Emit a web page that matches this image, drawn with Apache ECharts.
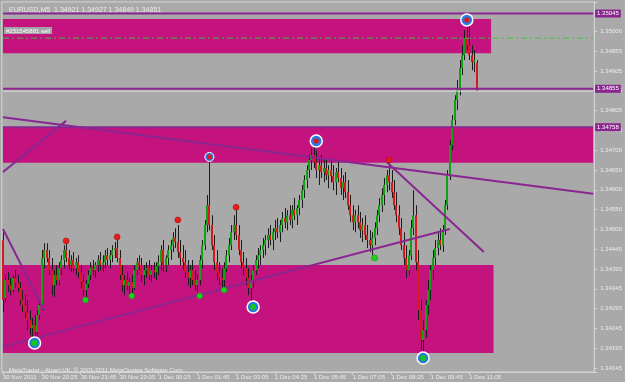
<!DOCTYPE html>
<html><head><meta charset="utf-8">
<script src="https://cdn.jsdelivr.net/npm/echarts@6/dist/echarts.min.js"></script>
<style>html,body{margin:0;padding:0;background:#a9a9a9;}#c{width:625px;height:382px;}</style>
</head><body><div id="c"></div>
<script>
const symbolTitle = 'EURUSD,M5';
const xTickLabels = ['30 Nov 2011','30 Nov 20:25','30 Nov 21:45','30 Nov 23:05','1 Dec 00:25','1 Dec 01:45','1 Dec 03:05','1 Dec 04:25','1 Dec 05:45','1 Dec 07:05','1 Dec 08:25','1 Dec 09:45','1 Dec 11:05'];
const yTickLabels = ['1.34145','1.34195','1.34245','1.34295','1.34345','1.34395','1.34445','1.34500','1.34550','1.34600','1.34650','1.34700','1.34750','1.34805','1.34855','1.34905','1.34955','1.35000',''];
const openP = [1.34473,1.34327,1.34372,1.34359,1.34347,1.34377,1.34364,1.34352,1.34322,1.34309,1.34291,1.34271,1.34251,1.34258,1.34241,1.34284,
1.34309,1.34428,1.34448,1.34428,1.34397,1.34359,1.34385,1.34372,1.34402,1.34423,1.34448,1.34428,1.34410,1.34423,1.34402,1.34417,
1.34392,1.34367,1.34347,1.34362,1.34385,1.34402,1.34397,1.34410,1.34423,1.34410,1.34417,1.34435,1.34423,1.34435,1.34448,1.34453,
1.34428,1.34385,1.34359,1.34372,1.34357,1.34367,1.34352,1.34397,1.34417,1.34410,1.34385,1.34397,1.34402,1.34385,1.34397,1.34392,
1.34407,1.34417,1.34448,1.34410,1.34428,1.34448,1.34460,1.34478,1.34468,1.34443,1.34428,1.34417,1.34392,1.34377,1.34397,1.34372,
1.34359,1.34372,1.34423,1.34460,1.34511,1.34561,1.34511,1.34460,1.34417,1.34392,1.34377,1.34372,1.34402,1.34435,1.34460,1.34493,
1.34511,1.34486,1.34448,1.34417,1.34402,1.34377,1.34352,1.34367,1.34397,1.34423,1.34435,1.34448,1.34460,1.34473,1.34486,1.34473,
1.34493,1.34503,1.34493,1.34511,1.34529,1.34518,1.34536,1.34524,1.34549,1.34536,1.34554,1.34574,1.34599,1.34625,1.34650,1.34675,
1.34688,1.34670,1.34650,1.34662,1.34645,1.34655,1.34637,1.34650,1.34635,1.34619,1.34645,1.34630,1.34604,1.34619,1.34594,1.34561,
1.34536,1.34518,1.34536,1.34518,1.34498,1.34511,1.34486,1.34473,1.34460,1.34478,1.34503,1.34536,1.34561,1.34587,1.34612,1.34637,
1.34619,1.34594,1.34561,1.34536,1.34503,1.34460,1.34428,1.34397,1.34435,1.34503,1.34536,1.34417,1.34296,1.34221,1.34246,1.34309,
1.34347,1.34397,1.34428,1.34453,1.34473,1.34460,1.34498,1.34561,1.34637,1.34713,1.34776,1.34827,1.34852,1.34907,1.34940,1.34983,
1.34965,1.34940,1.34922,1.34921];
const highP = [1.34493,1.34385,1.34392,1.34377,1.34385,1.34397,1.34385,1.34367,1.34347,1.34334,1.34322,1.34296,1.34276,1.34284,1.34296,1.34322,
1.34448,1.34465,1.34465,1.34448,1.34428,1.34397,1.34410,1.34417,1.34435,1.34460,1.34468,1.34448,1.34435,1.34443,1.34428,1.34435,
1.34410,1.34385,1.34372,1.34397,1.34417,1.34423,1.34417,1.34435,1.34443,1.34435,1.34448,1.34453,1.34448,1.34460,1.34468,1.34473,
1.34448,1.34410,1.34385,1.34392,1.34377,1.34385,1.34410,1.34428,1.34435,1.34428,1.34410,1.34417,1.34423,1.34410,1.34417,1.34417,
1.34435,1.34460,1.34473,1.34435,1.34460,1.34473,1.34493,1.34503,1.34511,1.34473,1.34460,1.34448,1.34423,1.34410,1.34423,1.34397,
1.34385,1.34435,1.34473,1.34524,1.34587,1.34675,1.34536,1.34486,1.34448,1.34417,1.34402,1.34417,1.34448,1.34478,1.34511,1.34536,
1.34549,1.34511,1.34473,1.34443,1.34428,1.34402,1.34385,1.34410,1.34435,1.34453,1.34460,1.34478,1.34486,1.34503,1.34511,1.34503,
1.34524,1.34529,1.34524,1.34544,1.34554,1.34549,1.34561,1.34561,1.34579,1.34561,1.34587,1.34612,1.34637,1.34662,1.34688,1.34705,
1.34720,1.34700,1.34680,1.34688,1.34675,1.34680,1.34662,1.34675,1.34662,1.34655,1.34670,1.34655,1.34637,1.34645,1.34625,1.34587,
1.34561,1.34549,1.34561,1.34544,1.34529,1.34536,1.34511,1.34498,1.34493,1.34518,1.34549,1.34579,1.34604,1.34630,1.34650,1.34667,
1.34650,1.34625,1.34594,1.34561,1.34529,1.34493,1.34460,1.34448,1.34524,1.34599,1.34561,1.34448,1.34322,1.34271,1.34322,1.34372,
1.34410,1.34448,1.34473,1.34493,1.34503,1.34511,1.34574,1.34650,1.34726,1.34789,1.34839,1.34877,1.34928,1.34965,1.35003,1.35016,
1.35023,1.34965,1.34953,1.34927];
const lowP = [1.34291,1.34316,1.34342,1.34334,1.34339,1.34352,1.34342,1.34309,1.34291,1.34276,1.34246,1.34233,1.34221,1.34208,1.34231,1.34271,
1.34296,1.34402,1.34417,1.34385,1.34334,1.34329,1.34359,1.34359,1.34385,1.34402,1.34417,1.34397,1.34392,1.34392,1.34385,1.34377,
1.34352,1.34334,1.34327,1.34352,1.34372,1.34382,1.34377,1.34392,1.34397,1.34392,1.34402,1.34410,1.34402,1.34417,1.34428,1.34417,
1.34372,1.34342,1.34334,1.34347,1.34337,1.34339,1.34347,1.34385,1.34397,1.34367,1.34359,1.34377,1.34372,1.34367,1.34377,1.34372,
1.34385,1.34397,1.34392,1.34392,1.34410,1.34423,1.34443,1.34453,1.34428,1.34410,1.34397,1.34377,1.34359,1.34352,1.34359,1.34347,
1.34342,1.34359,1.34402,1.34448,1.34493,1.34498,1.34448,1.34397,1.34372,1.34359,1.34352,1.34352,1.34392,1.34417,1.34448,1.34473,
1.34473,1.34435,1.34402,1.34385,1.34359,1.34334,1.34309,1.34352,1.34385,1.34402,1.34410,1.34428,1.34435,1.34453,1.34460,1.34448,
1.34473,1.34478,1.34468,1.34493,1.34503,1.34498,1.34511,1.34503,1.34524,1.34511,1.34536,1.34554,1.34579,1.34604,1.34630,1.34650,
1.34655,1.34630,1.34612,1.34630,1.34619,1.34625,1.34604,1.34619,1.34599,1.34587,1.34619,1.34587,1.34574,1.34579,1.34549,1.34518,
1.34498,1.34493,1.34503,1.34478,1.34468,1.34473,1.34453,1.34443,1.34435,1.34460,1.34486,1.34518,1.34544,1.34561,1.34594,1.34599,
1.34579,1.34549,1.34518,1.34486,1.34448,1.34410,1.34377,1.34385,1.34423,1.34486,1.34397,1.34271,1.34196,1.34188,1.34226,1.34284,
1.34322,1.34372,1.34410,1.34435,1.34448,1.34443,1.34486,1.34549,1.34625,1.34700,1.34763,1.34801,1.34839,1.34890,1.34928,1.34953,
1.34928,1.34902,1.34897,1.34849];
const closeP = [1.34322,1.34372,1.34359,1.34347,1.34377,1.34364,1.34352,1.34322,1.34309,1.34291,1.34271,1.34251,1.34258,1.34241,1.34284,1.34309,
1.34428,1.34448,1.34428,1.34397,1.34359,1.34385,1.34372,1.34402,1.34423,1.34448,1.34428,1.34410,1.34423,1.34402,1.34417,1.34392,
1.34367,1.34347,1.34362,1.34385,1.34402,1.34397,1.34410,1.34423,1.34410,1.34417,1.34435,1.34423,1.34435,1.34448,1.34453,1.34428,
1.34385,1.34359,1.34372,1.34357,1.34367,1.34352,1.34397,1.34417,1.34410,1.34385,1.34397,1.34402,1.34385,1.34397,1.34392,1.34407,
1.34417,1.34448,1.34410,1.34428,1.34448,1.34460,1.34478,1.34468,1.34443,1.34428,1.34417,1.34392,1.34377,1.34397,1.34372,1.34359,
1.34372,1.34423,1.34460,1.34511,1.34561,1.34511,1.34460,1.34417,1.34392,1.34377,1.34372,1.34402,1.34435,1.34460,1.34493,1.34511,
1.34486,1.34448,1.34417,1.34402,1.34377,1.34352,1.34367,1.34397,1.34423,1.34435,1.34448,1.34460,1.34473,1.34486,1.34473,1.34493,
1.34503,1.34493,1.34511,1.34529,1.34518,1.34536,1.34524,1.34549,1.34536,1.34554,1.34574,1.34599,1.34625,1.34650,1.34675,1.34688,
1.34670,1.34650,1.34662,1.34645,1.34655,1.34637,1.34650,1.34635,1.34619,1.34645,1.34630,1.34604,1.34619,1.34594,1.34561,1.34536,
1.34518,1.34536,1.34518,1.34498,1.34511,1.34486,1.34473,1.34460,1.34478,1.34503,1.34536,1.34561,1.34587,1.34612,1.34637,1.34619,
1.34594,1.34561,1.34536,1.34503,1.34460,1.34428,1.34397,1.34435,1.34503,1.34536,1.34417,1.34296,1.34221,1.34246,1.34309,1.34347,
1.34397,1.34428,1.34453,1.34473,1.34460,1.34498,1.34561,1.34637,1.34713,1.34776,1.34827,1.34852,1.34907,1.34940,1.34983,1.34965,
1.34940,1.34922,1.34928,1.34851];
// zones: [startBar, endBar, top price, bottom price]
const zoneTop = [0, 201, 1.35031, 1.34945];
const zoneMid = [0, 243, 1.34758, 1.34668];
const zoneLow = [0, 202, 1.34410, 1.34188];
// horizontal levels
const hLevels = [1.35045, 1.34855, 1.34758];
const bidLevel = 1.34849;
const orderLevel = 1.34983;
const orderText = '#251545881 sell';
// trend lines [bar, price]
const trendA = [[0, 1.34783], [243, 1.34590]];
const trendB = [[0, 1.34645], [26, 1.34774]];
const trendC = [[0, 1.34204], [184, 1.34501]];
const trendD = [[0, 1.34501], [17, 1.34295]];
const trendE = [[158, 1.34670], [198, 1.34443]];
// ring markers [bar, price]
const ringHigh = [[191, 1.35029], [129, 1.34723]];
const ringHighSmall = [[85, 1.34683]];
const ringLow = [[103, 1.34304], [13, 1.34213], [173, 1.34175]];
const fractalUp = [[26, 1.34471], [47, 1.34481], [72, 1.34524], [96, 1.34556], [159, 1.34675]];
const fractalDown = [[34, 1.34322], [53, 1.34332], [81, 1.34332], [91, 1.34347], [153, 1.34428]];

const totalSlots = 244;
const lastSlot = totalSlots - 1;
const cats = [];
for (let i = 0; i < totalSlots; i++) cats.push(i % 16 === 0 && xTickLabels[i / 16] ? xTickLabels[i / 16] : ' ' + i);
const candles = openP.map((o, i) => [i, o, closeP[i], lowP[i], highP[i]]);
const n = openP.length - 1;
const titleText = symbolTitle + '  ' + openP[n].toFixed(5) + ' ' + highP[n].toFixed(5) + ' ' + lowP[n].toFixed(5) + ' ' + closeP[n].toFixed(5);

const FONT = 'Liberation Sans';
const PURPLE = '#8a2690';
const TXT = '#ececec';
const chart = echarts.init(document.getElementById('c'));
const lineSeries = (d, extra) => Object.assign({ type: 'line', data: d, symbol: 'none', z: 4, lineStyle: { color: PURPLE, width: 2 }, silent: true, animation: false }, extra || {});
const levelSeries = hLevels.map(v => lineSeries([[0, v], [lastSlot, v]], {
  endLabel: { show: true, distance: 2, formatter: v.toFixed(5), color: '#ffffff', backgroundColor: PURPLE, fontSize: 6, fontFamily: FONT, padding: [1, 2, 1, 2] }
}));
chart.setOption({
  backgroundColor: '#a9a9a9',
  animation: false,
  title: [
    { text: titleText, left: 4, top: 2, textStyle: { color: TXT, fontSize: 7, fontWeight: 'normal', fontFamily: FONT } },
    { text: 'MetaTrader - Alpari UK, \u00a9 2001-2011 MetaQuotes Software Corp.', left: 4, top: 362, textStyle: { color: TXT, fontSize: 6, fontWeight: 'normal', fontFamily: FONT } }
  ],
  grid: { left: 1, right: 25, top: 2, bottom: 10, show: true, borderColor: '#d4d4d4', borderWidth: 1 },
  xAxis: {
    type: 'category', data: cats, boundaryGap: true,
    axisLine: { lineStyle: { color: '#d4d4d4' } },
    axisTick: { show: true, alignWithLabel: true, length: 3, interval: (i) => i % 16 === 0 && i / 16 < xTickLabels.length, lineStyle: { color: '#d4d4d4' } },
    axisLabel: { interval: (i) => i % 16 === 0 && i / 16 < xTickLabels.length, showMinLabel: true, align: 'left', margin: 2, color: TXT, fontSize: 6, fontFamily: FONT, formatter: (v) => v.charAt(0) === ' ' ? '' : v },
    splitLine: { show: false }
  },
  yAxis: {
    type: 'value', position: 'right', min: 1.341399, max: 1.350742, scale: true,
    splitNumber: 18, minInterval: 0.0005, maxInterval: 0.0005,
    axisLine: { show: true, lineStyle: { color: '#d4d4d4' } },
    axisTick: { show: true, length: 3, lineStyle: { color: '#d4d4d4' } },
    splitLine: { show: false },
    axisLabel: { margin: 6, color: TXT, fontSize: 6, fontFamily: FONT,
      formatter: (v) => { const k = Math.round((v - 1.3415) / 0.0005); if (Math.abs(v - (1.3415 + k * 0.0005)) > 1e-7) return ''; return yTickLabels[k] || ''; } }
  },
  series: [
    { type: 'line', data: [], z: 1, silent: true,
      markArea: { silent: true, itemStyle: { color: '#c4137f' },
        data: [zoneTop, zoneMid, zoneLow].map(z => [{ xAxis: z[0], yAxis: z[2] }, { xAxis: z[1], yAxis: z[3] }]) } },
    { type: 'custom', z: 3, data: candles, encode: { x: 0, y: [1, 2, 3, 4] },
      renderItem: function (params, api) {
        const x = api.value(0), o = api.value(1), c = api.value(2), l = api.value(3), h = api.value(4);
        const pO = api.coord([x, o]), pC = api.coord([x, c]), pL = api.coord([x, l]), pH = api.coord([x, h]);
        const cx = Math.round(pO[0]);
        const top = Math.min(pO[1], pC[1]), bot = Math.max(pO[1], pC[1]);
        return { type: 'group', children: [
          { type: 'rect', shape: { x: cx, y: pH[1], width: 1, height: Math.max(1, pL[1] - pH[1]) }, style: { fill: '#1c1c1c' } },
          { type: 'rect', shape: { x: cx - 1, y: top, width: 2, height: Math.max(1, bot - top) }, style: { fill: c >= o ? '#14a014' : '#d41a1a' } }
        ] };
      } },
    lineSeries([[0, bidLevel], [lastSlot, bidLevel]], { lineStyle: { color: '#dcdcdc', width: 1 } }),
    lineSeries([{ value: [0, orderLevel], symbol: 'circle', symbolSize: 0.01,
      label: { show: true, position: 'top', align: 'left', offset: [1, 1], formatter: orderText, color: '#ffffff', backgroundColor: '#a4a4a4', fontSize: 6, fontFamily: FONT, padding: [1, 2, 0, 2] } },
      [lastSlot, orderLevel]], { lineStyle: { color: '#3cc03c', width: 1, type: [6, 3, 2, 3] } }),
    ...levelSeries,
    lineSeries(trendA), lineSeries(trendB), lineSeries(trendC), lineSeries(trendD), lineSeries(trendE),
    { type: 'scatter', z: 5, data: ringHigh.concat(ringLow), symbolSize: 12, itemStyle: { color: '#2a78e0', borderColor: '#ffffff', borderWidth: 1.5, opacity: 1 } },
    { type: 'scatter', z: 5, data: ringHighSmall, symbolSize: 9, itemStyle: { color: '#2a78e0', borderColor: '#ffffff', borderWidth: 1, opacity: 1 } },
    { type: 'scatter', z: 6, data: ringHigh.concat(ringHighSmall), symbolSize: 5, itemStyle: { color: '#e01818', opacity: 1 } },
    { type: 'scatter', z: 6, data: ringLow, symbolSize: 6, itemStyle: { color: '#18c818', opacity: 1 } },
    { type: 'scatter', z: 5, data: fractalUp, symbolSize: 6, itemStyle: { color: '#e41c1c', borderColor: '#a01010', borderWidth: 0.5, opacity: 1 } },
    { type: 'scatter', z: 5, data: fractalDown, symbolSize: 6, itemStyle: { color: '#1ed21e', borderColor: '#108010', borderWidth: 0.5, opacity: 1 } }
  ]
});
</script></body></html>
